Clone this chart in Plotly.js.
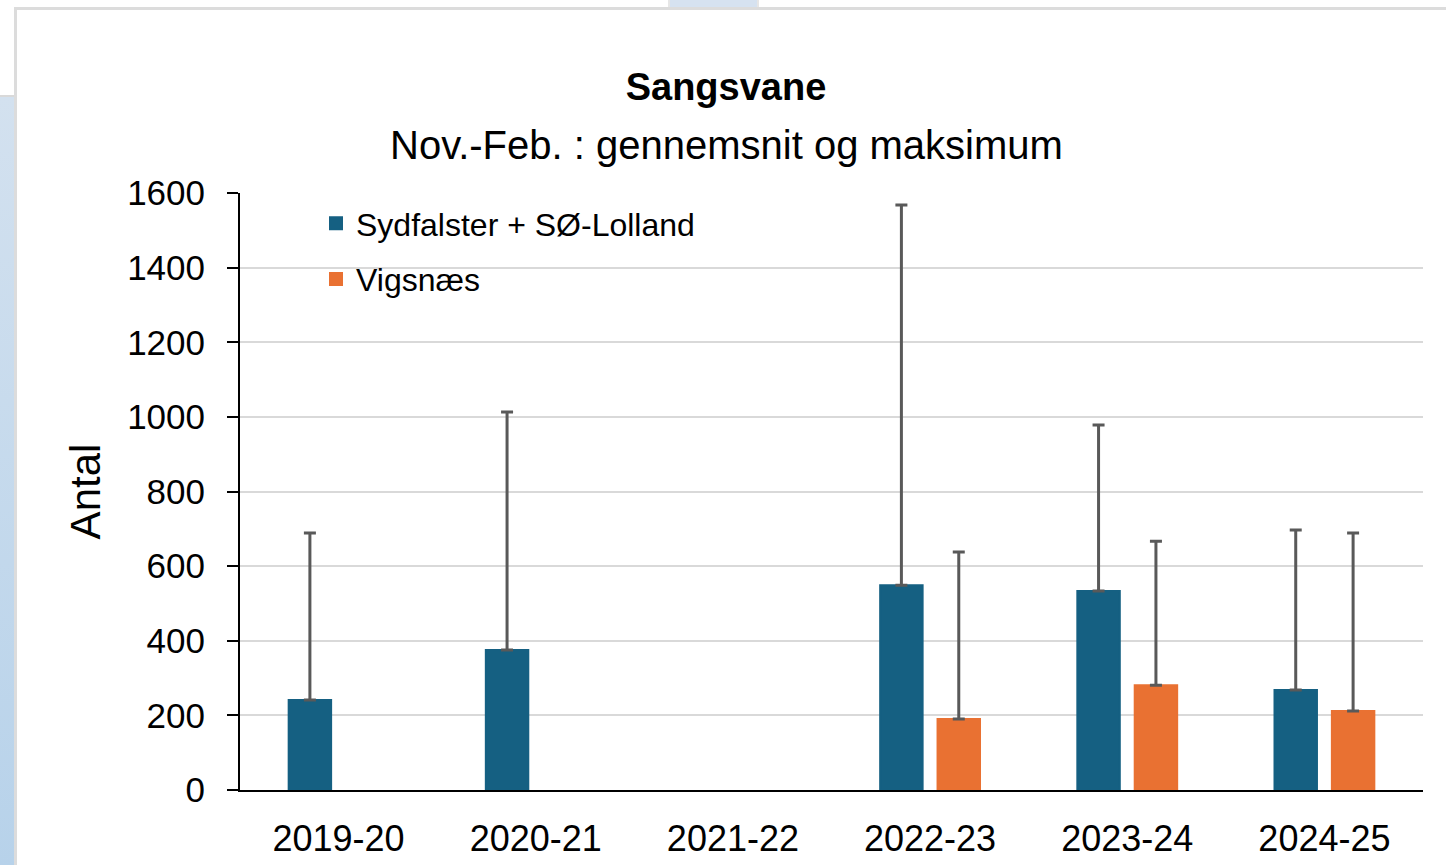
<!DOCTYPE html>
<html>
<head>
<meta charset="utf-8">
<script src="https://cdn.plot.ly/plotly-3.0.1.min.js"></script>
<style>
  html, body { margin:0; padding:0; width:1446px; height:865px; overflow:hidden; background:#ffffff; }
  #bg-left { position:absolute; left:0; top:95px; width:14px; height:770px; background:linear-gradient(#d3e1ef, #b7d2ea); border-top:2px solid #d9d9d9; }
  #bg-vline { position:absolute; left:14px; top:8px; width:3px; height:857px; background:#dcdcdc; }
  #bg-hline { position:absolute; left:14px; top:7px; width:1432px; height:3px; background:#dcdcdc; }
  #bg-toprect { position:absolute; left:668px; top:0; width:87px; height:7px; background:#d6e2f0; border-left:2px solid #e6e6e6; border-right:2px solid #e6e6e6; }
  #chart { position:absolute; left:0; top:0; width:1446px; height:865px; }
</style>
</head>
<body>
<div id="bg-left"></div>
<div id="bg-toprect"></div>
<div id="bg-hline"></div>
<div id="bg-vline"></div>
<div id="chart"></div>
<script>
const categories = ["2019-20", "2020-21", "2021-22", "2022-23", "2023-24", "2024-25"];
const seriesNames = ["Sydfalster + SØ-Lolland", "Vigsnæs"];
const meanSydfalster = [241, 375, null, 549, 533, 268];
const maxSydfalster  = [689, 1013, null, 1568, 978, 697];
const meanVigsnaes   = [null, null, null, 190, 281, 212];
const maxVigsnaes    = [null, null, null, 638, 667, 689];
const chartTitle = "Sangsvane";
const chartSubtitle = "Nov.-Feb. : gennemsnit og maksimum";
const yTitle = "Antal";

const sans = "'Liberation Sans', Arial, sans-serif";

function upper(means, maxs) {
  return means.map((m, i) => (m === null || maxs[i] === null) ? null : maxs[i] - m);
}
function zeros(means) { return means.map(m => m === null ? null : 0); }

const errStyle = { type: 'data', symmetric: false, color: '#595959', thickness: 3, width: 6 };

const traces = [
  {
    type: 'bar', name: seriesNames[0], x: categories, y: meanSydfalster,
    marker: { color: '#156082', line: { color: '#156082', width: 2 } }, legendgroup: 'a',
    error_y: Object.assign({ array: upper(meanSydfalster, maxSydfalster), arrayminus: zeros(meanSydfalster) }, errStyle)
  },
  {
    type: 'bar', name: seriesNames[1], x: categories, y: meanVigsnaes,
    marker: { color: '#E97132', line: { color: '#E97132', width: 2 } }, legendgroup: 'b',
    error_y: Object.assign({ array: upper(meanVigsnaes, maxVigsnaes), arrayminus: zeros(meanVigsnaes) }, errStyle)
  }
];

const layout = {
  width: 1446, height: 865,
  paper_bgcolor: 'rgba(0,0,0,0)', plot_bgcolor: 'rgba(0,0,0,0)',
  margin: { l: 240, r: 23, t: 193, b: 75 },
  barmode: 'group', bargap: 0.418, bargroupgap: 0.26,
  title: {
    text: '<b>' + chartTitle + '</b>',
    font: { family: sans, size: 38, color: '#000000' },
    x: 726 / 1446, xref: 'container', xanchor: 'center',
    y: 1 - 87 / 865, yref: 'container', yanchor: 'middle'
  },
  annotations: [{
    text: chartSubtitle, showarrow: false,
    xref: 'paper', yref: 'paper', x: (726 - 240) / 1183, y: (790 - 145) / 597,
    xanchor: 'center', yanchor: 'middle',
    font: { family: sans, size: 40, color: '#000000' }
  }],
  showlegend: true,
  legend: {
    x: (316 - 240) / 1183, y: (790 - 196) / 597, xref: 'paper', yref: 'paper',
    xanchor: 'left', yanchor: 'top',
    font: { family: sans, size: 32, color: '#000000' },
    bgcolor: 'rgba(0,0,0,0)', tracegroupgap: 11, traceorder: 'grouped'
  },
  xaxis: {
    type: 'category', categoryorder: 'array', categoryarray: categories,
    showline: true, linecolor: '#000000', linewidth: 2,
    ticks: 'outside', ticklen: 16, tickcolor: 'rgba(0,0,0,0)',
    tickfont: { family: sans, size: 36, color: '#000000' },
    tickangle: 0,
    showgrid: false, zeroline: false, fixedrange: true, automargin: false
  },
  yaxis: {
    range: [0, 1600], dtick: 200, tick0: 0,
    showline: true, linecolor: '#000000', linewidth: 2,
    ticks: 'outside', ticklen: 11, tickwidth: 2, tickcolor: '#000000',
    ticklabelstandoff: 15,
    tickfont: { family: sans, size: 35, color: '#000000' },
    showgrid: true, gridcolor: '#d9d9d9', gridwidth: 2,
    zeroline: false,
    title: { text: yTitle, font: { family: sans, size: 42, color: '#000000' }, standoff: 13 },
    automargin: false, fixedrange: true
  }
};

Plotly.newPlot('chart', traces, layout, { displayModeBar: false, staticPlot: true });
</script>
</body>
</html>
